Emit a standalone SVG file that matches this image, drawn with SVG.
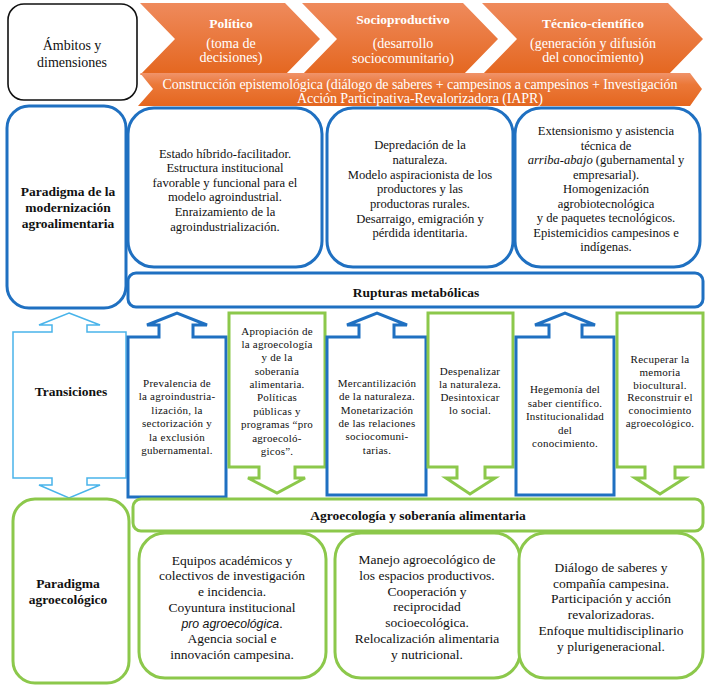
<svg xmlns="http://www.w3.org/2000/svg" width="715" height="688" viewBox="0 0 715 688" font-family="'Liberation Serif', 'Times New Roman', Tinos, 'DejaVu Serif', serif">
<defs>
<linearGradient id="og" x1="0" y1="0" x2="0" y2="1">
<stop offset="0" stop-color="#EF8A5C"/>
<stop offset="1" stop-color="#E4661F"/>
</linearGradient>
<linearGradient id="ob" x1="0" y1="0" x2="0" y2="1">
<stop offset="0" stop-color="#F0936A"/>
<stop offset="0.35" stop-color="#EB7838"/>
<stop offset="1" stop-color="#E4661F"/>
</linearGradient>
<style>
text{font-family:'Liberation Serif','Times New Roman',Tinos,'DejaVu Serif',serif;fill:#111;text-anchor:middle}
.w{fill:#fff}
.hd{font-size:13.5px;font-weight:bold}
.lb{font-size:14px}
.bd{font-size:14px}
.tb{font-size:12.6px}
.tr{font-size:11px;letter-spacing:0.25px}
.bt{font-size:13.5px}
.blue{fill:#fff;stroke:#1F70C1;stroke-width:3}
.green{fill:#fff;stroke:#8CC84B;stroke-width:3}
.lblue{fill:#fff;stroke:#49B4EA;stroke-width:1.5}
.black{fill:#fff;stroke:#111;stroke-width:1.6}
.chev{fill:url(#og)}
.it{font-style:italic}
.its{font-style:italic;font-family:'Liberation Sans',Arial,sans-serif;font-size:12.3px}
</style>
</defs>
<rect width="715" height="688" fill="#fff"/>

<g id="connectors"></g>

<g id="ambitos">
<rect class="black" x="8" y="4" width="129" height="96" rx="16"/>
<text class="lb" x="72" y="50">Ámbitos y</text>
<text class="lb" x="72" y="67">dimensiones</text>
</g>

<g id="politico">
<path class="chev" d="M140,3 H285 L320,39 L285,75 H140 L175,39 Z"/>
<text class="w hd" x="231" y="27.7">Político</text>
<text class="w lb" x="231" y="48">(toma de</text>
<text class="w lb" x="231" y="62">decisiones)</text>
</g>

<g id="socioproductivo">
<path class="chev" d="M302,3 H463 L498,39 L463,75 H302 L337,39 Z"/>
<text class="w hd" x="403" y="23.7">Socioproductivo</text>
<text class="w lb" x="403" y="48">(desarrollo</text>
<text class="w lb" x="403" y="63">sociocomunitario)</text>
</g>

<g id="tecnico">
<path class="chev" d="M482,3 H668 L703,39 L668,75 H482 L517,39 Z"/>
<text class="w hd" x="593" y="27.7">Técnico-científico</text>
<text class="w lb" x="593" y="48">(generación y difusión</text>
<text class="w lb" x="593" y="62">del conocimiento)</text>
</g>

<g id="construccion">
<path fill="url(#ob)" d="M140,73 H690 L702,89 L690,106 H138 L153,89 Z"/>
<text class="w bd" x="420" y="88.8" textLength="515" lengthAdjust="spacing">Construcción epistemológica (diálogo de saberes + campesinos a campesinos + Investigación</text>
<text class="w bd" x="420" y="102.8" textLength="246" lengthAdjust="spacing">Acción Participativa-Revalorizadora (IAPR)</text>
</g>

<g id="paradigma-modernizacion">
<rect class="blue" x="7" y="106" width="119" height="202" rx="22"/>
<text class="hd" x="68" y="195.7">Paradigma de la</text>
<text class="hd" x="68" y="211.7">modernización</text>
<text class="hd" x="68" y="227.7">agroalimentaria</text>
</g>

<g id="mod-politico">
<rect class="blue" x="128" y="108" width="194" height="159" rx="26"/>
<text class="tb" x="225" y="157.5">Estado híbrido-facilitador.<tspan x="225" dy="14.6">Estructura institucional</tspan><tspan x="225" dy="14.6">favorable y funcional para el</tspan><tspan x="225" dy="14.6">modelo agroindustrial.</tspan><tspan x="225" dy="14.6">Enraizamiento de la</tspan><tspan x="225" dy="14.6">agroindustrialización.</tspan></text>
</g>

<g id="mod-socioproductivo">
<rect class="blue" x="327" y="108" width="186" height="159" rx="26"/>
<text class="tb" x="420" y="149.4">Depredación de la<tspan x="420" dy="14.67">naturaleza.</tspan><tspan x="420" dy="14.67">Modelo aspiracionista de los</tspan><tspan x="420" dy="14.67">productores y las</tspan><tspan x="420" dy="14.67">productoras rurales.</tspan><tspan x="420" dy="14.67">Desarraigo, emigración y</tspan><tspan x="420" dy="14.67">pérdida identitaria.</tspan></text>
</g>

<g id="mod-tecnico">
<rect class="blue" x="515" y="108" width="185" height="159" rx="26"/>
<text class="tb" x="606" y="135.4">Extensionismo y asistencia<tspan x="606" dy="14.5">técnica de</tspan><tspan x="606" dy="14.5"><tspan class="it">arriba-abajo</tspan> (gubernamental y</tspan><tspan x="606" dy="14.5">empresarial).</tspan><tspan x="606" dy="14.5">Homogenización</tspan><tspan x="606" dy="14.5">agrobiotecnológica</tspan><tspan x="606" dy="14.5">y de paquetes tecnológicos.</tspan><tspan x="606" dy="14.5">Epistemicidios campesinos e</tspan><tspan x="606" dy="14.5">indígenas.</tspan></text>
</g>

<g id="rupturas">
<rect class="blue" x="128" y="273" width="575" height="34" rx="8"/>
<text class="hd" x="416" y="296.7">Rupturas metabólicas</text>
</g>

<g id="transiciones">
<path class="lblue" d="M69,313 L100,325 H87 V332 H126 V478 H87 V485 H100 L69,498 L39,485 H52 V478 H13 V332 H52 V325 H39 Z"/>
<text class="hd" x="71" y="395.7">Transiciones</text>
</g>

<g id="t-prevalencia">
<path class="blue" d="M128,337 H159 V325 H147 L177,313 L207,325 H193 V337 H226 V497 H128 Z"/>
<text class="tr" x="177" y="386.9">Prevalencia de<tspan x="177" dy="13.4">la agroindustria-</tspan><tspan x="177" dy="13.4">lización, la</tspan><tspan x="177" dy="13.4">sectorización y</tspan><tspan x="177" dy="13.4">la exclusión</tspan><tspan x="177" dy="13.4">gubernamental.</tspan></text>
</g>

<g id="t-apropiacion">
<path class="green" d="M229,313 H325 V467 H295 V478 H305 L277,493 L248,478 H259 V467 H229 Z"/>
<text class="tr" x="277" y="334.6">Apropiación de<tspan x="277" dy="13.37">la agroecología</tspan><tspan x="277" dy="13.37">y de la</tspan><tspan x="277" dy="13.37">soberanía</tspan><tspan x="277" dy="13.37">alimentaria.</tspan><tspan x="277" dy="13.37">Políticas</tspan><tspan x="277" dy="13.37">públicas y</tspan><tspan x="277" dy="13.37">programas “pro</tspan><tspan x="277" dy="13.37">agroecoló-</tspan><tspan x="277" dy="13.37">gicos”.</tspan></text>
</g>

<g id="t-mercantilizacion">
<path class="blue" d="M327,337 H359 V325 H347 L377,313 L407,325 H394 V337 H426 V495 H327 Z"/>
<text class="tr" x="377" y="386.6">Mercantilización<tspan x="377" dy="13.46">de la naturaleza.</tspan><tspan x="377" dy="13.46">Monetarización</tspan><tspan x="377" dy="13.46">de las relaciones</tspan><tspan x="377" dy="13.46">sociocomuni-</tspan><tspan x="377" dy="13.46">tarias.</tspan></text>
</g>

<g id="t-despenalizar">
<path class="green" d="M428,313 H513 V467 H485 V478 H495 L470,494 L446,478 H457 V467 H428 Z"/>
<text class="tr" x="470" y="374.6">Despenalizar<tspan x="470" dy="13.1">la naturaleza.</tspan><tspan x="470" dy="13.1">Desintoxicar</tspan><tspan x="470" dy="13.1">lo social.</tspan></text>
</g>

<g id="t-hegemonia">
<path class="blue" d="M516,337 H549 V325 H535 L565,313 L595,325 H582 V337 H614 V495 H516 Z"/>
<text class="tr" x="565" y="393.2">Hegemonía del<tspan x="565" dy="13.5">saber científico.</tspan><tspan x="565" dy="13.5">Institucionalidad</tspan><tspan x="565" dy="13.5">del</tspan><tspan x="565" dy="13.5">conocimiento.</tspan></text>
</g>

<g id="t-recuperar">
<path class="green" d="M617,313 H703 V467 H675 V478 H685 L660,494 L635,478 H645 V467 H617 Z"/>
<text class="tr" x="660" y="363.2">Recuperar la<tspan x="660" dy="12.7">memoria</tspan><tspan x="660" dy="12.7">biocultural.</tspan><tspan x="660" dy="12.7">Reconstruir el</tspan><tspan x="660" dy="12.7">conocimiento</tspan><tspan x="660" dy="12.7">agroecológico.</tspan></text>
</g>

<g id="paradigma-agroecologico">
<rect class="green" x="13" y="499" width="116" height="184" rx="22"/>
<text class="hd" x="68" y="587.7">Paradigma</text>
<text class="hd" x="68" y="603.7">agroecológico</text>
</g>

<g id="agroecologia-soberania">
<rect class="green" x="133" y="499" width="570" height="32" rx="8"/>
<text class="hd" x="418" y="519.7">Agroecología y soberanía alimentaria</text>
</g>

<g id="agro-politico">
<rect class="green" x="139" y="533" width="187" height="145" rx="26"/>
<text class="bt" x="232" y="564.7">Equipos académicos y<tspan x="232" dy="15.7">colectivos de investigación</tspan><tspan x="232" dy="15.7">e incidencia.</tspan><tspan x="232" dy="15.7">Coyuntura institucional</tspan><tspan x="232" dy="15.7"><tspan class="its">pro agroecológica</tspan>.</tspan><tspan x="232" dy="15.7">Agencia social e</tspan><tspan x="232" dy="15.7">innovación campesina.</tspan></text>
</g>

<g id="agro-socioproductivo">
<rect class="green" x="335" y="533" width="185" height="145" rx="26"/>
<text class="bt" x="427" y="564">Manejo agroecológico de<tspan x="427" dy="15.8">los espacios productivos.</tspan><tspan x="427" dy="15.8">Cooperación y</tspan><tspan x="427" dy="15.8">reciprocidad</tspan><tspan x="427" dy="15.8">socioecológica.</tspan><tspan x="427" dy="15.8">Relocalización alimentaria</tspan><tspan x="427" dy="15.8">y nutricional.</tspan></text>
</g>

<g id="agro-tecnico">
<rect class="green" x="519" y="533" width="184" height="145" rx="26"/>
<text class="bt" x="611" y="572">Diálogo de saberes y<tspan x="611" dy="15.7">compañía campesina.</tspan><tspan x="611" dy="15.7">Participación y acción</tspan><tspan x="611" dy="15.7">revalorizadoras.</tspan><tspan x="611" dy="15.7">Enfoque multidisciplinario</tspan><tspan x="611" dy="15.7">y plurigeneracional.</tspan></text>
</g>
</svg>
